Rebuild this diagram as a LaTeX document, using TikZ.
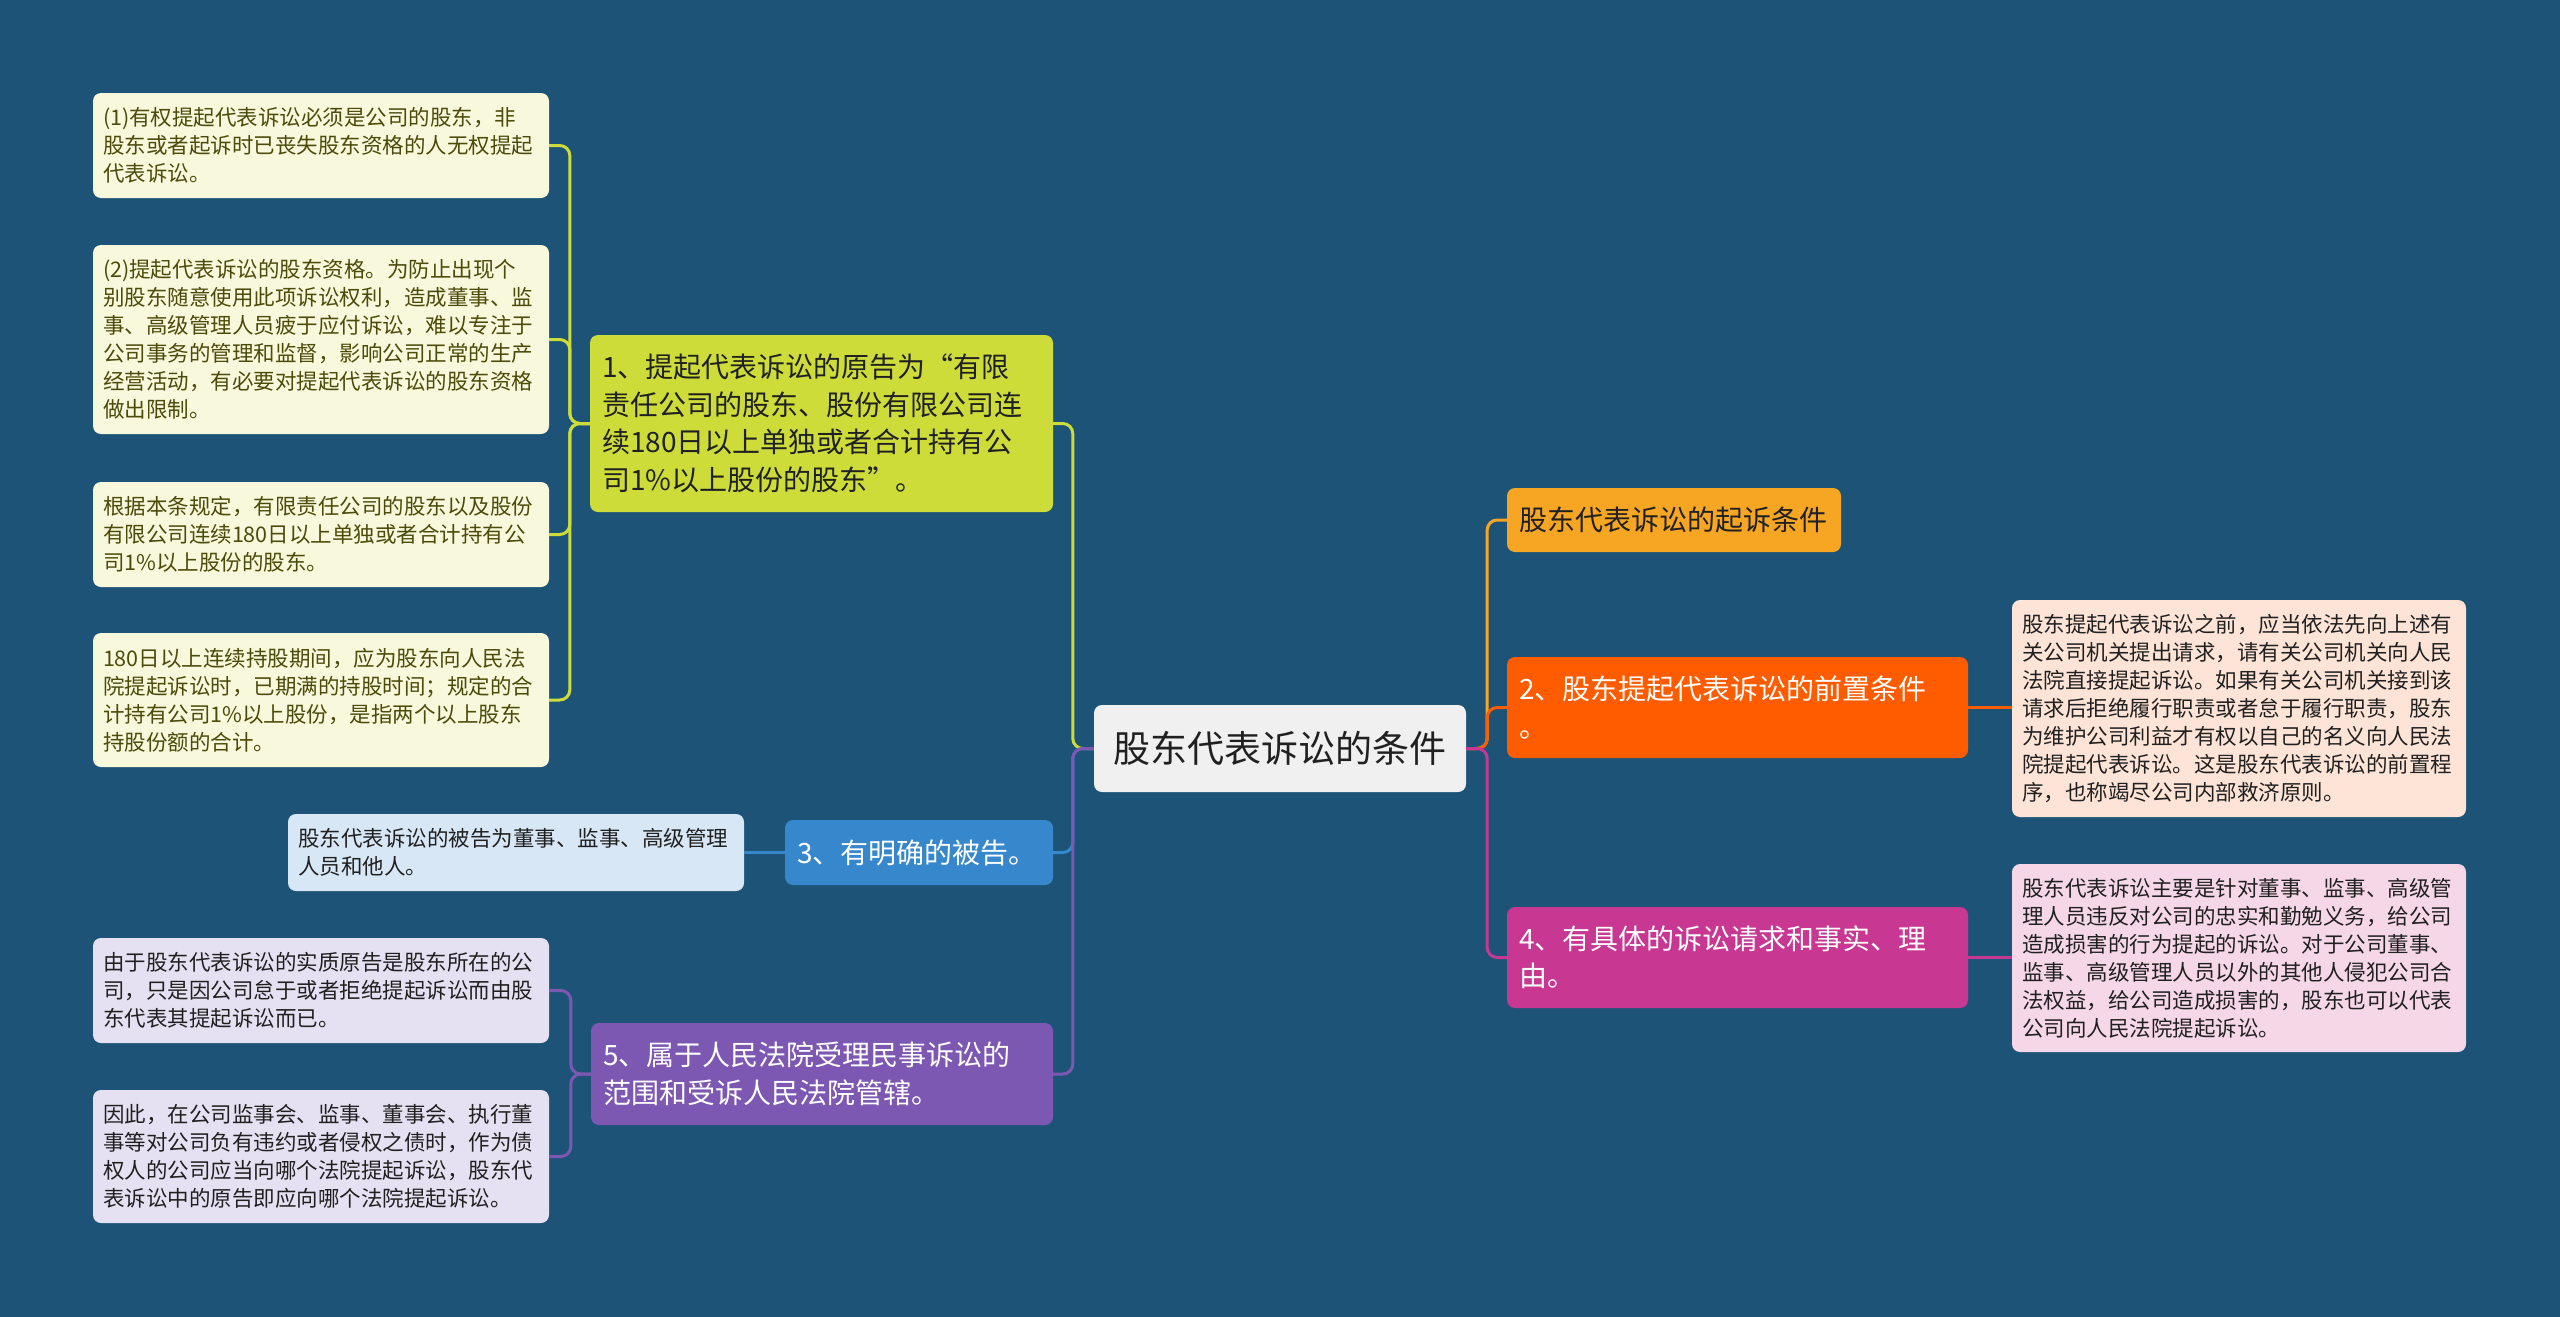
\documentclass[tikz,border=0pt]{standalone}
\usepackage{fontspec}
\setmainfont{Noto Sans CJK SC}
\usetikzlibrary{positioning, calc}
\usepackage{xcolor}
\definecolor{bgblue}{RGB}{28,83,119}
\definecolor{rootgray}{RGB}{240,240,240}
\definecolor{branchlime}{RGB}{205,220,57}
\definecolor{leaflime}{RGB}{248,248,220}
\definecolor{textlime}{RGB}{75,75,10}
\definecolor{branchblue}{RGB}{55,135,205}
\definecolor{leafblue}{RGB}{215,231,245}
\definecolor{branchpurple}{RGB}{125,88,178}
\definecolor{leafpurple}{RGB}{230,225,242}
\definecolor{branchamber}{RGB}{247,166,35}
\definecolor{branchorange}{RGB}{255,92,0}
\definecolor{leaforange}{RGB}{253,228,215}
\definecolor{branchpink}{RGB}{200,55,145}
\definecolor{leafpink}{RGB}{245,215,232}
\definecolor{darktext}{RGB}{32,32,32}

\begin{document}
\begin{tikzpicture}[x=1pt, y=-1pt,
        rootbox/.style={rectangle, rounded corners=8pt, fill=rootgray, text=darktext, font=\fontsize{37}{44}\selectfont, minimum width=372pt, minimum height=87pt, inner sep=0pt},
        branch/.style={rectangle, rounded corners=8pt, font=\fontsize{28}{37.5}\selectfont, align=left, inner xsep=12pt, inner ysep=6pt},
        leaf/.style={rectangle, rounded corners=8pt, font=\fontsize{21.5}{28}\selectfont, align=left, inner xsep=10pt, inner ysep=6pt, text width=436pt},
        link/.style={line width=3pt, rounded corners=10pt}
    ]
        \fill[bgblue] (0,0) rectangle (2560,1317);
        \useasboundingbox (0,0) rectangle (2560,1317);

        \node[rootbox] (root) at (1280,748.5) {股东代表诉讼的条件};

        \node[branch, fill=branchlime, text=darktext, text width=439pt, minimum height=177pt] (b1) at (821.5,423.5) {1、提起代表诉讼的原告为“有限\\责任公司的股东、股份有限公司连\\续180日以上单独或者合计持有公\\司1\%以上股份的股东”。};
        \node[branch, fill=branchblue, text=white, text width=244pt, minimum height=65pt] (b3) at (919,852.5) {3、有明确的被告。};
        \node[branch, fill=branchpurple, text=white, text width=438pt, minimum height=102pt] (b5) at (822,1074) {5、属于人民法院受理民事诉讼的\\范围和受诉人民法院管辖。};
        \node[branch, fill=branchamber, text=darktext, text width=310pt, minimum height=64pt] (b0) at (1674,520) {股东代表诉讼的起诉条件};
        \node[branch, fill=branchorange, text=white, text width=437pt, minimum height=101pt] (b2) at (1737.5,707.5) {2、股东提起代表诉讼的前置条件\\。};
        \node[branch, fill=branchpink, text=white, text width=437pt, minimum height=101pt] (b4) at (1737.5,957.5) {4、有具体的诉讼请求和事实、理\\由。};

        \node[leaf, fill=leaflime, text=textlime, minimum height=105pt] (l1) at (321,145.5) {(1)有权提起代表诉讼必须是公司的股东，非\\股东或者起诉时已丧失股东资格的人无权提起\\代表诉讼。};
        \node[leaf, fill=leaflime, text=textlime, minimum height=189pt] (l2) at (321,339.5) {(2)提起代表诉讼的股东资格。为防止出现个\\别股东随意使用此项诉讼权利，造成董事、监\\事、高级管理人员疲于应付诉讼，难以专注于\\公司事务的管理和监督，影响公司正常的生产\\经营活动，有必要对提起代表诉讼的股东资格\\做出限制。};
        \node[leaf, fill=leaflime, text=textlime, minimum height=105pt] (l3) at (321,534.5) {根据本条规定，有限责任公司的股东以及股份\\有限公司连续180日以上单独或者合计持有公\\司1\%以上股份的股东。};
        \node[leaf, fill=leaflime, text=textlime, minimum height=134pt] (l4) at (321,700) {180日以上连续持股期间，应为股东向人民法\\院提起诉讼时，已期满的持股时间；规定的合\\计持有公司1\%以上股份，是指两个以上股东\\持股份额的合计。};
        \node[leaf, fill=leafblue, text=darktext, minimum height=77pt] (lf3) at (516,852.5) {股东代表诉讼的被告为董事、监事、高级管理\\人员和他人。};
        \node[leaf, fill=leafpurple, text=darktext, minimum height=105pt] (l5a) at (321,990.5) {由于股东代表诉讼的实质原告是股东所在的公\\司，只是因公司怠于或者拒绝提起诉讼而由股\\东代表其提起诉讼而已。};
        \node[leaf, fill=leafpurple, text=darktext, minimum height=133pt] (l5b) at (321,1156.5) {因此，在公司监事会、监事、董事会、执行董\\事等对公司负有违约或者侵权之债时，作为债\\权人的公司应当向哪个法院提起诉讼，股东代\\表诉讼中的原告即应向哪个法院提起诉讼。};
        \node[leaf, fill=leaforange, text=darktext, text width=434pt, minimum height=217pt] (lf2) at (2239,708.5) {股东提起代表诉讼之前，应当依法先向上述有\\关公司机关提出请求，请有关公司机关向人民\\法院直接提起诉讼。如果有关公司机关接到该\\请求后拒绝履行职责或者怠于履行职责，股东\\为维护公司利益才有权以自己的名义向人民法\\院提起代表诉讼。这是股东代表诉讼的前置程\\序，也称竭尽公司内部救济原则。};
        \node[leaf, fill=leafpink, text=darktext, text width=434pt, minimum height=188pt] (lf4) at (2239,958) {股东代表诉讼主要是针对董事、监事、高级管\\理人员违反对公司的忠实和勤勉义务，给公司\\造成损害的行为提起的诉讼。对于公司董事、\\监事、高级管理人员以外的其他人侵犯公司合\\法权益，给公司造成损害的，股东也可以代表\\公司向人民法院提起诉讼。};

        \draw[link, draw=branchlime] (root.west) -- ++(-21,0) |- (b1.east);
        \draw[link, draw=branchblue] (root.west) -- ++(-21,0) |- (b3.east);
        \draw[link, draw=branchpurple] (root.west) -- ++(-21,0) |- (b5.east);
        \draw[link, draw=branchamber] (root.east) -- ++(21,0) |- (b0.west);
        \draw[link, draw=branchorange] (root.east) -- ++(21,0) |- (b2.west);
        \draw[link, draw=branchpink] (root.east) -- ++(21,0) |- (b4.west);

        \foreach \l in {l1,l2,l3,l4}
            \draw[link, draw=branchlime] (b1.west) -- ++(-20,0) |- (\l.east);
        \foreach \l in {l5a,l5b}
            \draw[link, draw=branchpurple] (b5.west) -- ++(-20,0) |- (\l.east);
        \draw[link, draw=branchblue] (b3.west) -- (lf3.east);
        \draw[link, draw=branchorange] (b2.east) -- (b2.east -| lf2.west);
        \draw[link, draw=branchpink] (b4.east) -- (b4.east -| lf4.west);
    \end{tikzpicture}
\end{document}
